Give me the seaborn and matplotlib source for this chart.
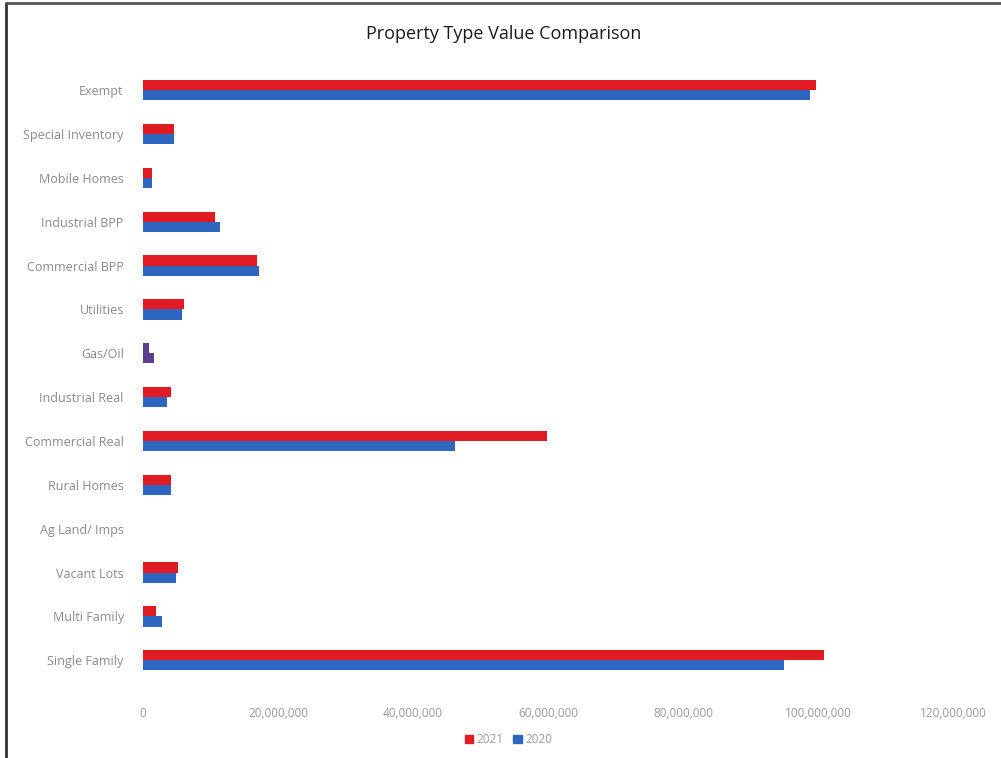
import matplotlib
matplotlib.use("Agg")
import matplotlib.pyplot as plt
from matplotlib.patches import Rectangle
from matplotlib.ticker import FuncFormatter
import seaborn as sns
import pandas as pd

# Property categories (top to bottom) and assessed values
categories = [
    "Exempt", "Special Inventory", "Mobile Homes", "Industrial BPP",
    "Commercial BPP", "Utilities", "Gas/Oil", "Industrial Real",
    "Commercial Real", "Rural Homes", "Ag Land/ Imps", "Vacant Lots",
    "Multi Family", "Single Family",
]
values_2021 = [99_700_000, 4_600_000, 1_300_000, 10_700_000, 16_800_000,
               6_100_000, 800_000, 4_200_000, 59_900_000, 4_200_000,
               0, 5_200_000, 1_900_000, 100_900_000]
values_2020 = [98_800_000, 4_600_000, 1_300_000, 11_400_000, 17_100_000,
               5_800_000, 1_600_000, 3_600_000, 46_200_000, 4_200_000,
               0, 4_800_000, 2_800_000, 94_900_000]
years = ["2021", "2020"]
x_ticks = [0, 20_000_000, 40_000_000, 60_000_000, 80_000_000,
           100_000_000, 120_000_000]

df = pd.DataFrame({
    "category": categories * 2,
    "value": values_2021 + values_2020,
    "year": [years[0]] * len(categories) + [years[1]] * len(categories),
})

sns.set_theme(style="white")
plt.rcParams["font.family"] = ["Open Sans", "DejaVu Sans"]

fig = plt.figure(figsize=(10.01, 7.58), dpi=100)
ax = fig.add_axes([0.143, 0.100, 0.809, 0.810])

palette = {"2021": "#e01b22", "2020": "#2e66c2"}
sns.barplot(data=df, y="category", x="value", hue="year", order=categories,
            hue_order=years, palette=palette, orient="h", width=0.46,
            saturation=1, linewidth=0, ax=ax, legend=False)

# Gas/Oil row is shown in purple for both years
gas_idx = categories.index("Gas/Oil")
for cont in ax.containers:
    cont.patches[gas_idx].set_facecolor("#5c3f8f")

ax.set_xlim(0, 120_000_000)
ax.set_ylim(len(categories) - 0.5, -0.5)
ax.set_xticks(x_ticks)
ax.xaxis.set_major_formatter(FuncFormatter(lambda v, p: f"{int(v):,}"))
ax.set_xlabel("")
ax.set_ylabel("")
for s in ax.spines.values():
    s.set_visible(False)
ax.tick_params(axis="x", length=0, pad=18, labelsize=8.5, labelcolor="#9a9a9a")
ax.tick_params(axis="y", length=0, pad=14, labelsize=9, labelcolor="#8a8a8a")

fig.text(0.503, 0.955, "Property Type Value Comparison", ha="center",
         va="center", fontsize=13, color="#1a1a1a")

# Legend with square swatches
handles = [Rectangle((0, 0), 1, 1, color=palette[y]) for y in years]
fig.legend(handles, years, loc="center", bbox_to_anchor=(0.508, 0.024),
           ncol=2, frameon=False, fontsize=8.5, labelcolor="#9a9a9a",
           handlelength=0.7, handleheight=0.7, handletextpad=0.3,
           columnspacing=0.8)

# Chart frame (left and top edges)
fig.add_artist(plt.Line2D([0.006, 0.006], [0.0, 0.996], color="#333333",
                          lw=2.0, transform=fig.transFigure))
fig.add_artist(plt.Line2D([0.006, 1.0], [0.996, 0.996], color="#555555",
                          lw=2.0, transform=fig.transFigure))

fig.savefig("out.png", dpi=100)
